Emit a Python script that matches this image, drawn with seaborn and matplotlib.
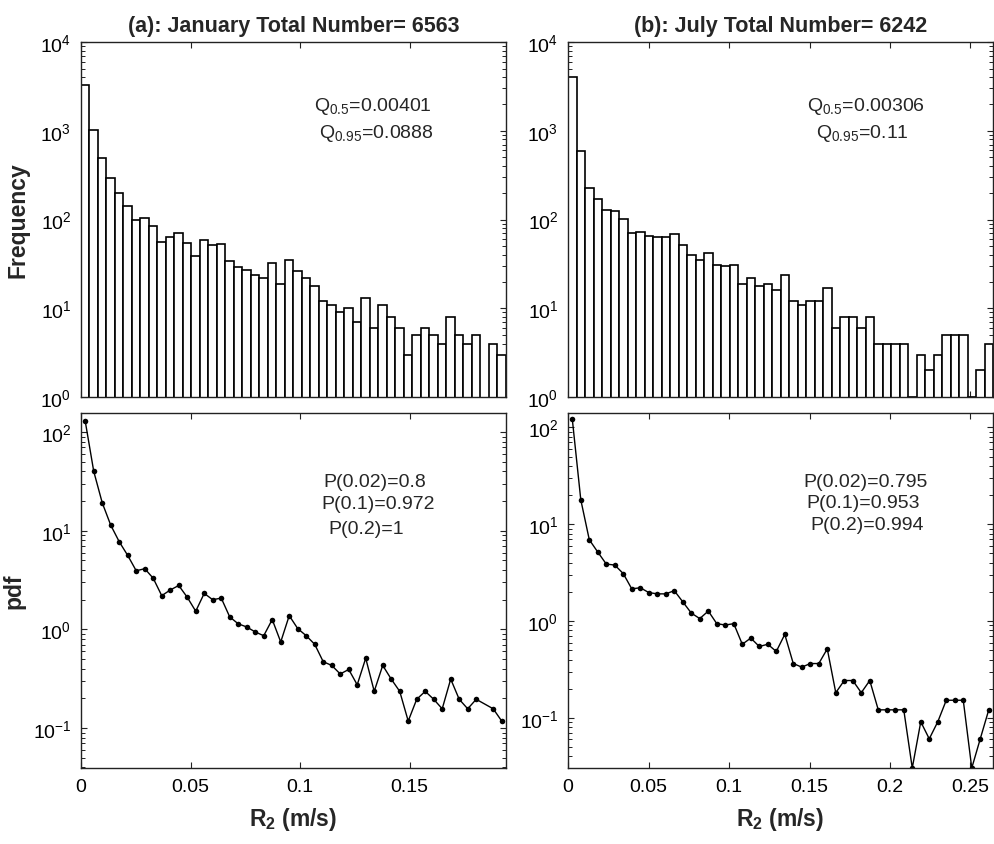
import numpy as np
import pandas as pd
import matplotlib
matplotlib.use('Agg')
import matplotlib.pyplot as plt
from matplotlib.ticker import LogLocator, NullFormatter
import seaborn as sns


# ==========================
# DADOS
# ==========================

# histograma de janeiro: 50 classes entre 0 e R2 maximo
jan_total = 6563
jan_xmax = 0.194
jan_counts = [
    3275, 1018, 489, 291, 197, 143, 100, 105, 84, 56,
    64, 71, 54, 39, 59, 51, 53, 34, 29, 27,
    24, 22, 32, 19, 35, 26, 22, 18, 12, 11,
    9, 10, 7, 13, 6, 11, 8, 6, 3, 5,
    6, 5, 4, 8, 5, 4, 5, 0, 4, 3,
]
jan_pdf = [
    128.7, 40.0, 19.2, 11.4, 7.74, 5.62, 3.93, 4.13, 3.30, 2.20,
    2.51, 2.79, 2.12, 1.53, 2.32, 2.00, 2.08, 1.34, 1.14, 1.06,
    0.943, 0.864, 1.26, 0.747, 1.38, 1.02, 0.864, 0.707, 0.471, 0.432,
    0.354, 0.393, 0.275, 0.511, 0.236, 0.432, 0.314, 0.236, 0.118, 0.196,
    0.236, 0.196, 0.157, 0.314, 0.196, 0.157, 0.196, np.nan, 0.157, 0.118,
]
jan_pdf_ylim = (0.0394, 156)
jan_quantis = ['Q$_{0.5}$=0.00401', 'Q$_{0.95}$=0.0888']
jan_probs = ['P(0.02)=0.8', 'P(0.1)=0.972', 'P(0.2)=1']

# histograma de julho
jul_total = 6242
jul_xmax = 0.264
jul_counts = [
    4035, 591, 228, 170, 128, 125, 102, 71, 73, 65,
    63, 63, 68, 52, 40, 35, 42, 31, 30, 31,
    19, 22, 18, 19, 16, 24, 12, 11, 12, 12,
    17, 6, 8, 8, 6, 8, 4, 4, 4, 4,
    1, 3, 2, 3, 5, 5, 5, 1, 2, 4,
]
jul_pdf = [
    122.0, 17.9, 6.92, 5.16, 3.88, 3.79, 3.09, 2.15, 2.21, 1.97,
    1.91, 1.91, 2.06, 1.58, 1.21, 1.06, 1.27, 0.94, 0.91, 0.94,
    0.576, 0.667, 0.546, 0.576, 0.485, 0.728, 0.364, 0.334, 0.364, 0.364,
    0.516, 0.182, 0.243, 0.243, 0.182, 0.243, 0.121, 0.121, 0.121, 0.121,
    0.0303, 0.091, 0.0607, 0.091, 0.152, 0.152, 0.152, 0.0303, 0.0607, 0.121,
]
jul_pdf_ylim = (0.0303, 141)
jul_quantis = ['Q$_{0.5}$=0.00306', 'Q$_{0.95}$=0.11']
jul_probs = ['P(0.02)=0.795', 'P(0.1)=0.953', 'P(0.2)=0.994']


# ==========================
# CONFIGURAÇÕES
# ==========================

sns.set_theme(style='ticks')
plt.rcParams['font.family'] = ['Liberation Sans', 'DejaVu Sans']
plt.rcParams['mathtext.fontset'] = 'custom'
plt.rcParams['mathtext.rm'] = 'Liberation Sans'
plt.rcParams['mathtext.it'] = 'Liberation Sans:italic'
plt.rcParams['mathtext.bf'] = 'Liberation Sans:bold'
plt.rcParams['axes.edgecolor'] = '#222222'
plt.rcParams['axes.linewidth'] = 1.0


def estilo(ax):
    ax.yaxis.set_minor_locator(
        LogLocator(base=10, subs=np.arange(2, 10), numticks=50)
    )
    ax.yaxis.set_minor_formatter(NullFormatter())
    ax.tick_params(which='both', direction='in', top=True, right=True,
                   colors='#222222', labelcolor='black')
    ax.tick_params(which='major', length=4.5, width=0.8, labelsize=14, pad=7)
    ax.tick_params(axis='y', which='minor', length=3, width=0.7,
                   left=True, right=True)
    ax.tick_params(axis='x', which='minor', bottom=False, top=False)


def centros(n, xmax):
    bordas = np.linspace(0, xmax, n + 1)
    return (bordas[:-1] + bordas[1:]) / 2


def histograma(ax, counts, xmax):
    df = pd.DataFrame({'r2': centros(len(counts), xmax), 'n': counts})
    sns.histplot(
        data=df, x='r2', weights='n', bins=len(counts), binrange=(0, xmax),
        ax=ax, color='white', edgecolor='black', linewidth=1.2, alpha=1
    )
    ax.set_yscale('log')
    ax.set_ylim(1, 1e4)
    ax.set_xlim(0, xmax)
    ax.set_xticks([t for t in np.arange(0, xmax, 0.05)])
    ax.set_xticklabels([])
    ax.set_xlabel('')
    ax.set_ylabel('')
    estilo(ax)


def curva_pdf(ax, pdf, xmax, ylim):
    df = pd.DataFrame({'r2': centros(len(pdf), xmax), 'pdf': pdf}).dropna()
    sns.lineplot(
        data=df, x='r2', y='pdf', ax=ax, color='black',
        linewidth=1.0, marker='o', markersize=4, markeredgewidth=0
    )
    ax.set_yscale('log')
    ax.set_ylim(*ylim)
    ax.set_xlim(0, xmax)
    ticks = list(np.arange(0, xmax, 0.05))
    ax.set_xticks(ticks)
    ax.set_xticklabels(['0'] + [f'{t:g}' for t in ticks[1:]])
    ax.set_xlabel(r'$\mathbf{R_2}$ (m/s)', fontsize=16.5, fontweight='bold')
    ax.xaxis.set_label_coords(0.5, -0.105)
    ax.set_ylabel('')
    estilo(ax)


# ==========================
# FIGURA
# ==========================

fig = plt.figure(figsize=(9.95, 8.45), dpi=100)

ax_a = fig.add_axes([0.0814, 0.529, 0.4271, 0.4201])
ax_b = fig.add_axes([0.5709, 0.529, 0.4271, 0.4201])
ax_c = fig.add_axes([0.0814, 0.0899, 0.4271, 0.4201])
ax_d = fig.add_axes([0.5709, 0.0899, 0.4271, 0.4201])

histograma(ax_a, jan_counts, jan_xmax)
histograma(ax_b, jul_counts, jul_xmax)
curva_pdf(ax_c, jan_pdf, jan_xmax, jan_pdf_ylim)
curva_pdf(ax_d, jul_pdf, jul_xmax, jul_pdf_ylim)

ax_a.set_title(f'(a): January Total Number= {jan_total}',
               fontsize=15.5, fontweight='bold', pad=8)
ax_b.set_title(f'(b): July Total Number= {jul_total}',
               fontsize=15.5, fontweight='bold', pad=8)

ax_a.set_ylabel('Frequency', fontsize=16.5, fontweight='bold')
ax_a.yaxis.set_label_coords(-0.122, 0.5)
ax_c.set_ylabel('pdf', fontsize=16.5, fontweight='bold')
ax_c.yaxis.set_label_coords(-0.13, 0.5)

# textos dos quantis
for ax, textos, xs in [(ax_a, jan_quantis, [0.687, 0.694]),
                       (ax_b, jul_quantis, [0.701, 0.692])]:
    for texto, x, y in zip(textos, xs, [0.82, 0.746]):
        ax.text(x, y, texto, transform=ax.transAxes, ha='center',
                va='center', fontsize=14)

# textos das probabilidades
for ax, textos, xs, ys in [
    (ax_c, jan_probs, [0.692, 0.699, 0.671], [0.808, 0.746, 0.676]),
    (ax_d, jul_probs, [0.701, 0.694, 0.704], [0.806, 0.749, 0.685]),
]:
    for texto, x, y in zip(textos, xs, ys):
        ax.text(x, y, texto, transform=ax.transAxes, ha='center',
                va='center', fontsize=14)

plt.savefig('out.png', dpi=100)
plt.close()
